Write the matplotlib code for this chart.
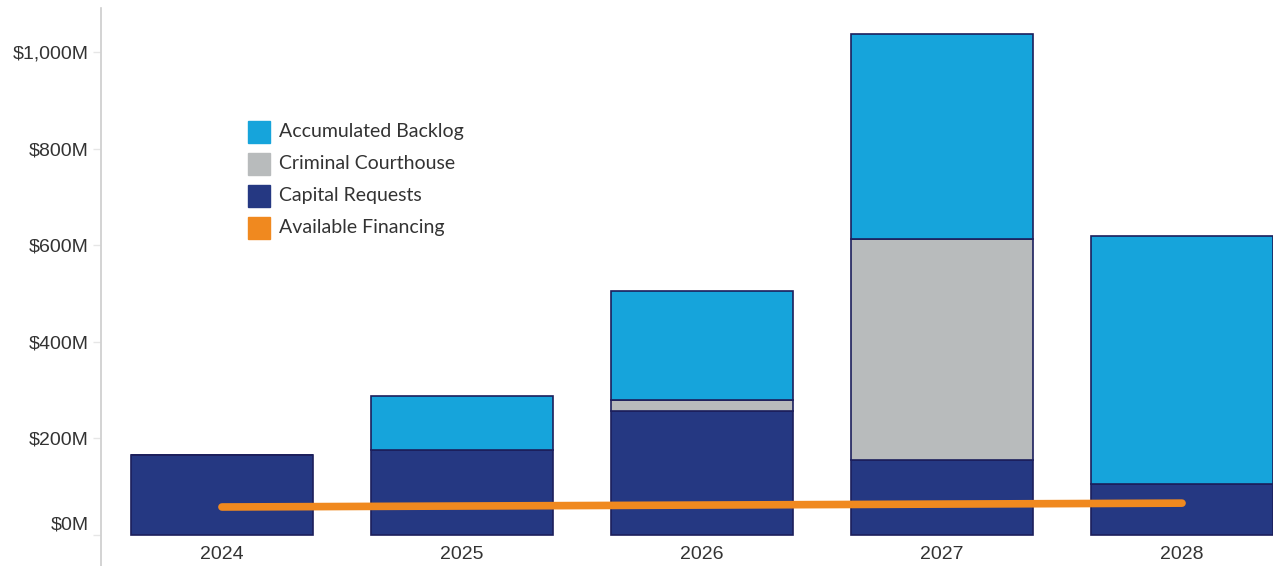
import matplotlib
matplotlib.use("Agg")
import matplotlib.pyplot as plt
from matplotlib.patches import Rectangle
from matplotlib.lines import Line2D
from matplotlib.transforms import ScaledTranslation
import numpy as np

# values in $M
years = ["2024", "2025", "2026", "2027", "2028"]
capital_requests = [166, 176, 257, 155, 106]
criminal_courthouse = [0, 0, 23, 458, 0]
accumulated_backlog = [0, 112, 226, 425, 514]
available_financing = [58, 60, 62, 64, 66]

legend_labels = ["Accumulated Backlog", "Criminal Courthouse",
                 "Capital Requests", "Available Financing"]
yticks = [0, 200, 400, 600, 800, 1000]

C_BACKLOG = "#16a4db"
C_COURT = "#b8bbbc"
C_CAPITAL = "#253882"
C_FIN = "#f0891f"
EDGE = "#1c1f5c"

W, H = 1273, 566
fig = plt.figure(figsize=(W / 100, H / 100), dpi=100)
ax = fig.add_axes([100 / W, (H - 540) / H, 1 - 100 / W, (540 - 8) / H])

x = np.arange(len(years))
bw = 0.755
cap = np.array(capital_requests)
court = np.array(criminal_courthouse)
back = np.array(accumulated_backlog)

ax.bar(x, cap, bw, color=C_CAPITAL, edgecolor=EDGE, linewidth=1.2, zorder=2)
ax.bar(x, court, bw, bottom=cap, color=C_COURT, edgecolor=EDGE, linewidth=1.2,
       zorder=2)
ax.bar(x, back, bw, bottom=cap + court, color=C_BACKLOG, edgecolor=EDGE,
       linewidth=1.2, zorder=2)
ax.plot(x, available_financing, color=C_FIN, lw=5.5, solid_capstyle="round",
        zorder=3)

ax.set_xlim(-0.508, 4.379)
ax.set_ylim(-10.4, 1092)

for s in ["top", "right", "bottom", "left"]:
    ax.spines[s].set_visible(False)

ax.set_yticks(yticks)
ax.set_yticklabels(["${:,}M".format(v) for v in yticks],
                   fontsize=14, color="#333333", family="Liberation Sans")
ax.tick_params(axis="y", length=5, width=1, color="#e6e6e6", pad=3)
# Tableau nudges the zero label up a bit
zl = ax.get_yticklabels()[0]
zl.set_transform(zl.get_transform()
                 + ScaledTranslation(0, 12 / 100, fig.dpi_scale_trans))

ax.set_xticks(x)
ax.set_xticklabels(years, fontsize=14, color="#333333", family="Liberation Sans")
ax.tick_params(axis="x", length=0, pad=4)

# axis line running the full height
fig.add_artist(Line2D([100.5 / W, 100.5 / W], [0, (H - 8) / H],
                      color="#cccccc", lw=1.2))

# legend drawn by hand
leg_colors = [C_BACKLOG, C_COURT, C_CAPITAL, C_FIN]
for i, (lab, col) in enumerate(zip(legend_labels, leg_colors)):
    yc = 132 + 32 * i
    fig.add_artist(Rectangle((248 / W, (H - yc - 11) / H), 22 / W, 22 / H,
                             transform=fig.transFigure, color=col))
    fig.text(279 / W, (H - yc) / H, lab, fontsize=14, color="#333333",
             va="center", ha="left", family="Lato")

fig.savefig("out.png", dpi=100)
